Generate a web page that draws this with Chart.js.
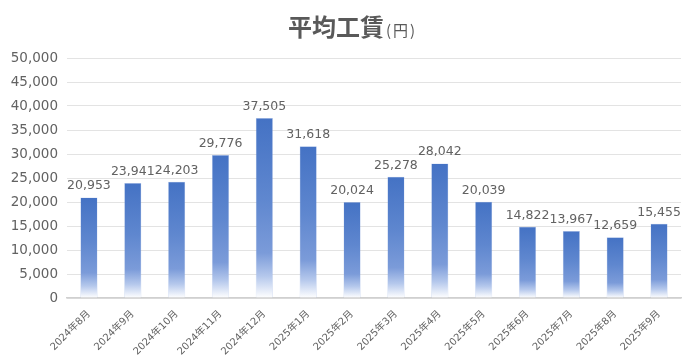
<!DOCTYPE html>
<html><head><meta charset="utf-8">
<script src="https://cdn.jsdelivr.net/npm/chart.js@4/dist/chart.umd.min.js"></script>
<style>html,body{margin:0;padding:0;background:#fff;}#wrap{width:696px;height:355px;}</style>
</head><body><div id="wrap"><canvas id="c" width="696" height="355"></canvas></div>
<script>
const categories = ['2024年8月','2024年9月','2024年10月','2024年11月','2024年12月','2025年1月','2025年2月','2025年3月','2025年4月','2025年5月','2025年6月','2025年7月','2025年8月','2025年9月'];
const wages = [20953,23941,24203,29776,37505,31618,20024,25278,28042,20039,14822,13967,12659,15455];
const yTicks = [0,5000,10000,15000,20000,25000,30000,35000,40000,45000,50000];
const titleMain = '平均工賃';
const titleUnit = '(円)';

const FONT = "'DejaVu Sans', 'Noto Sans CJK JP', sans-serif";
const GRAY = '#626262';

function barGradient(ctx) {
  const chart = ctx.chart;
  const area = chart.chartArea;
  if (!area || ctx.dataIndex === undefined) return '#4472C4';
  const ys = chart.scales.y;
  const top = ys.getPixelForValue(ctx.raw);
  const base = ys.getPixelForValue(0);
  const g = chart.ctx.createLinearGradient(0, top, 0, base);
  g.addColorStop(0, '#4472C4');
  g.addColorStop(0.45, '#5f87cf');
  g.addColorStop(0.75, '#7b9bd9');
  g.addColorStop(0.88, '#b5c8ec');
  g.addColorStop(1, '#ffffff');
  return g;
}

const titlePlugin = {
  id: 'mixedTitle',
  afterDraw(chart) {
    const c = chart.ctx;
    c.save();
    c.fillStyle = '#595959';
    c.textBaseline = 'alphabetic';
    c.textAlign = 'left';
    c.font = "700 24px 'Noto Sans CJK JP', sans-serif";
    const x0 = 288;
    const w1 = c.measureText(titleMain).width;
    c.fillText(titleMain, x0, 36);
    c.font = "400 15px 'Noto Sans CJK JP', sans-serif";
    if ('letterSpacing' in c) c.letterSpacing = '2px';
    c.fillText(titleUnit, x0 + w1 + 2, 36);
    c.restore();
  }
};

const valueLabels = {
  id: 'valueLabels',
  afterDatasetsDraw(chart) {
    const c = chart.ctx;
    const meta = chart.getDatasetMeta(0);
    c.save();
    c.fillStyle = GRAY;
    c.font = '12.5px ' + FONT;
    c.textAlign = 'center';
    c.textBaseline = 'bottom';
    meta.data.forEach((bar, i) => {
      c.fillText(wages[i].toLocaleString('en-US'), bar.x, bar.y - 5);
    });
    c.restore();
  }
};

new Chart(document.getElementById('c'), {
  type: 'bar',
  data: {
    labels: categories,
    datasets: [{
      data: wages,
      backgroundColor: barGradient,
      borderColor: 'rgba(140,168,224,0.6)',
      borderWidth: 0.5,
      categoryPercentage: 1,
      barPercentage: 0.39
    }]
  },
  options: {
    responsive: false,
    animation: false,
    devicePixelRatio: 1,
    layout: { padding: { top: 58, right: 15, left: 0, bottom: 0 } },
    plugins: { legend: { display: false }, tooltip: { enabled: false }, title: { display: false } },
    scales: {
      x: {
        grid: { display: false },
        border: { display: true, color: '#d0d0d0', width: 1.5 },
        ticks: { color: GRAY, font: { family: FONT, size: 10 }, maxRotation: 45, minRotation: 45, padding: 2, autoSkip: false },
        afterFit(s) { s.height = 57; }
      },
      y: {
        min: 0, max: 50000,
        afterBuildTicks(s) { s.ticks = yTicks.map(v => ({ value: v })); },
        grid: { color: '#e3e3e3', lineWidth: 1, drawTicks: false },
        border: { display: false },
        ticks: { color: GRAY, font: { family: FONT, size: 13.5 }, padding: 9,
          callback: v => Number(v).toLocaleString('en-US') },
        afterFit(s) { s.width = 67; }
      }
    }
  },
  plugins: [titlePlugin, valueLabels]
});
</script></body></html>
